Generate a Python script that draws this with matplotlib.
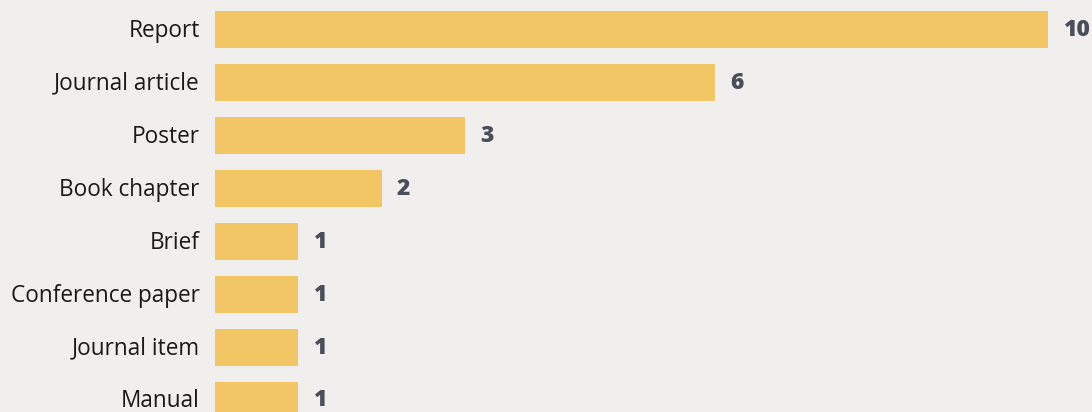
import matplotlib.pyplot as plt
import matplotlib.transforms as mtransforms

# data
categories = ['Report', 'Journal article', 'Poster', 'Book chapter', 'Brief',
              'Conference paper', 'Journal item', 'Manual']
counts = [10, 6, 3, 2, 1, 1, 1, 1]

bg = '#f1efee'
bar_color = '#f2c565'
label_color = '#4a4d5a'

fig = plt.figure(figsize=(10.92, 4.12), dpi=100, facecolor=bg)
ax = fig.add_axes([215 / 1092, 0, 877 / 1092, 1])
ax.set_facecolor(bg)

ypos = list(range(len(categories)))
ax.barh(ypos, counts, height=0.7, color=bar_color)

ax.set_xlim(0, 877 / 83.3)
ax.set_ylim(7.217, -0.557)

ax.set_yticks(ypos)
ax.set_yticklabels(categories, fontsize=16.3, family='Open Sans', color='#1a1a1a')
ax.tick_params(axis='y', length=0, pad=11)
# nudge the category labels up a little
shift = mtransforms.ScaledTranslation(0, 2 / 100, fig.dpi_scale_trans)
for lab in ax.get_yticklabels():
    lab.set_transform(lab.get_transform() + shift)
ax.set_xticks([])
for s in ax.spines.values():
    s.set_visible(False)

for y, v in zip(ypos, counts):
    ax.annotate(str(v), (v, y), xytext=(15, 0), textcoords='offset pixels',
                va='center', ha='left', fontsize=16.5, fontweight='heavy',
                family='Open Sans', color=label_color)

fig.savefig('out.png', dpi=100, facecolor=bg)
